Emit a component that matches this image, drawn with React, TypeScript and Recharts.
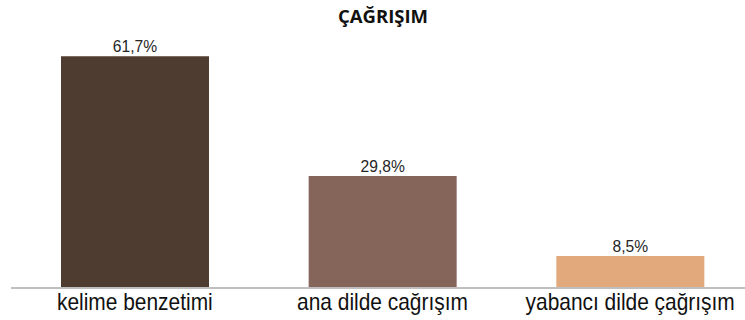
import { BarChart, Bar, XAxis, YAxis, LabelList, Cell } from 'recharts';

const categories = ['kelime benzetimi', 'ana dilde cağrışım', 'yabancı dilde çağrışım'];
const percentages = [61.7, 29.8, 8.5];
const barColors = ['#4f3c31', '#85645a', '#e1a97c'];

const data = categories.map((name, i) => ({ name, value: percentages[i] }));

const FONT = '"Liberation Sans", Arial, sans-serif';

const formatPercent = (v: any) => `${String(v).replace('.', ',')}%`;

// slightly condensed category labels under the axis
const CategoryTick = (props: any) => {
  const { x, y, payload } = props;
  return (
    <text
      transform={`translate(${x},${y + 14}) scale(0.91,1)`}
      textAnchor="middle"
      fontSize={23}
      fontFamily={FONT}
      fill="#111"
    >
      {payload.value}
    </text>
  );
};

const ValueLabel = (props: any) => {
  const { x, y, width, value } = props;
  return (
    <text
      transform={`translate(${x + width / 2},${y - 4}) scale(0.92,1)`}
      textAnchor="middle"
      fontSize={17}
      fontFamily={FONT}
      fill="#262626"
    >
      {formatPercent(value)}
    </text>
  );
};

export default function App() {
  return (
    <div
      style={{
        position: 'absolute',
        top: 0,
        left: 0,
        width: 745,
        height: 320,
        overflow: 'hidden',
        background: '#fff',
      }}
    >
      <div
        style={{
          position: 'absolute',
          top: 4,
          left: 283,
          width: 200,
          textAlign: 'center',
          fontFamily: '"Open Sans", sans-serif',
          fontWeight: 700,
          fontSize: 18.5,
          lineHeight: '24px',
          color: '#111',
        }}
      >
        ÇAĞRIŞIM
      </div>
      <BarChart
        width={756}
        height={320}
        data={data}
        margin={{ top: 25, right: 2, left: 11, bottom: 2 }}
        barSize={148}
      >
        <XAxis
          dataKey="name"
          axisLine={{ stroke: '#bfbfbf', strokeWidth: 2 }}
          tickLine={false}
          interval={0}
          height={30}
          tickMargin={2}
          tick={<CategoryTick />}
        />
        <YAxis hide domain={[0, 70]} />
        <Bar dataKey="value" isAnimationActive={false}>
          {data.map((d, i) => (
            <Cell key={d.name} fill={barColors[i]} />
          ))}
          <LabelList dataKey="value" content={<ValueLabel />} />
        </Bar>
      </BarChart>
    </div>
  );
}
